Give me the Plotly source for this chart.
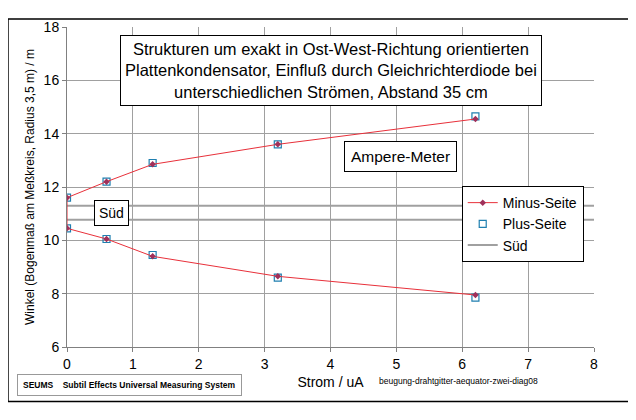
import plotly.graph_objects as go

x_minus = [6.2, 3.2, 1.3, 0.6, 0, 0, 0.6, 1.3, 3.2, 6.2]
y_minus = [7.95, 8.65, 9.4, 10.05, 10.45, 11.6, 12.2, 12.85, 13.6, 14.55]
x_plus = [0, 0.6, 1.3, 3.2, 6.2, 0, 0.6, 1.3, 3.2, 6.2]
y_plus = [10.45, 10.05, 9.45, 8.6, 7.85, 11.6, 12.2, 12.9, 13.6, 14.65]
sued_x = [0, 8]
sued_upper = [11.3, 11.3]
sued_lower = [10.77, 10.77]

F = "Liberation Sans"
fig = go.Figure()
fig.add_trace(go.Scatter(x=sued_x, y=sued_upper, mode="lines", line=dict(color="#a0a0a0", width=2), name="Süd"))
fig.add_trace(go.Scatter(x=sued_x, y=sued_lower, mode="lines", line=dict(color="#a0a0a0", width=2), showlegend=False))
fig.add_trace(go.Scatter(x=x_plus, y=y_plus, mode="markers", name="Plus-Seite",
                         marker=dict(symbol="square-open", size=7, color="#1f7fb0", line=dict(width=1.2))))
fig.add_trace(go.Scatter(x=x_minus, y=y_minus, mode="lines+markers", name="Minus-Seite",
                         line=dict(color="#e8303a", width=1), marker=dict(symbol="diamond", size=5, color="#a0305a")))

fig.update_layout(
    width=636, height=420, margin=dict(l=59, r=50, t=11, b=81),
    paper_bgcolor="white", plot_bgcolor="white", font=dict(family=F, size=13, color="black"),
    showlegend=True,
    legend=dict(x=0.749, y=0.503, xanchor="left", yanchor="top", bordercolor="black", borderwidth=1,
                bgcolor="white", traceorder="reversed", font=dict(size=14)),
    xaxis=dict(range=[0, 8], dtick=1, showgrid=True, gridcolor="#a0a0a0", zeroline=False,
               showline=True, linecolor="#808080", ticks="outside", ticklen=4, tickcolor="#808080",
               title=dict(text="Strom / uA", standoff=6, font=dict(size=14)), tickfont=dict(size=14)),
    yaxis=dict(range=[6, 18], dtick=2, showgrid=True, gridcolor="#a0a0a0", zeroline=False,
               showline=True, linecolor="#808080", ticks="outside", ticklen=4, tickcolor="#808080",
               title=dict(text="Winkel (Bogenmaß am Meßkreis, Radius 3,5 m) / m", font=dict(size=12), standoff=6),
               tickfont=dict(size=14)),
    shapes=[dict(type="rect", xref="paper", yref="paper", x0=-0.112, x1=1.075, y0=-0.17, y1=1.025,
                 line=dict(color="black", width=1.5))],
    annotations=[
        dict(text="Strukturen um exakt in Ost-West-Richtung orientierten<br>Plattenkondensator, Einfluß durch Gleichrichterdiode bei<br>unterschiedlichen Strömen, Abstand 35 cm",
             xref="paper", yref="paper", x=0.5, y=0.975, xanchor="center", yanchor="top", showarrow=False,
             font=dict(size=16.5), bgcolor="white", bordercolor="black", borderwidth=1, borderpad=4),
        dict(text="Ampere-Meter", xref="paper", yref="paper", x=0.74, y=0.595, showarrow=False,
             font=dict(size=15.5), bgcolor="white", bordercolor="black", borderwidth=1, borderpad=6),
        dict(text="Süd", xref="paper", yref="paper", x=0.051, y=0.418, showarrow=False,
             font=dict(size=14), bgcolor="white", bordercolor="black", borderwidth=1, borderpad=4),
        dict(text="<b>SEUMS    Subtil Effects Universal Measuring System</b>", xref="paper", yref="paper",
             x=-0.095, y=-0.085, xanchor="left", yanchor="top", showarrow=False, font=dict(size=8.5),
             bordercolor="#999", borderwidth=1, borderpad=5),
        dict(text="beugung-drahtgitter-aequator-zwei-diag08", xref="paper", yref="paper",
             x=0.588, y=-0.085, xanchor="left", yanchor="top", showarrow=False, font=dict(size=8.5)),
    ],
)
fig.write_html("out.html")
